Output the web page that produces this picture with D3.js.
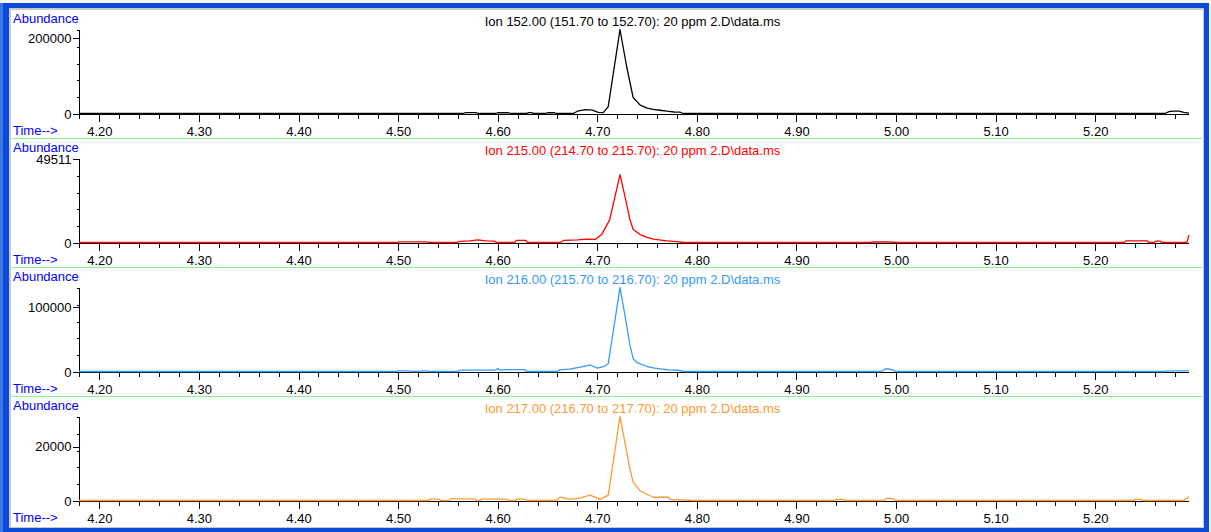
<!DOCTYPE html>
<html>
<head>
<meta charset="utf-8">
<script src="https://cdn.jsdelivr.net/npm/d3@7"></script>
<style>
  html, body { margin: 0; padding: 0; background: #f4f5f7; }
  svg { display: block; }
  text { font-family: "Liberation Sans", Arial, sans-serif; font-size: 13px; }
</style>
</head>
<body>
<svg id="chart" width="1211" height="532"></svg>
<script>
// ---------------- DATA ----------------
const titles = [
  "Ion 152.00 (151.70 to 152.70): 20 ppm 2.D\\data.ms",
  "Ion 215.00 (214.70 to 215.70): 20 ppm 2.D\\data.ms",
  "Ion 216.00 (215.70 to 216.70): 20 ppm 2.D\\data.ms",
  "Ion 217.00 (216.70 to 217.70): 20 ppm 2.D\\data.ms"
];
const timeDomain = [4.1796, 5.2941];
const xTickValues = [4.20, 4.30, 4.40, 4.50, 4.60, 4.70, 4.80, 4.90, 5.00, 5.10, 5.20];
const xTickLabels = ["4.20", "4.30", "4.40", "4.50", "4.60", "4.70", "4.80", "4.90", "5.00", "5.10", "5.20"];
const yMax = [221000, 49511, 129000, 30900];
const yTickValues = [[0, 200000], [0, 49511], [0, 100000], [0, 20000]];
const yTickLabels = [["0", "200000"], ["0", "49511"], ["0", "100000"], ["0", "20000"]];

// [time (min), abundance]
const ion152 = [[4.1796,0],[4.565,0],[4.568,2500],[4.578,2500],[4.581,0],[4.598,0],[4.600,2000],[4.611,2000],[4.613,0],
  [4.629,0],[4.631,2500],[4.634,2500],[4.636,0],[4.648,0],[4.650,2000],[4.657,2000],[4.659,0],[4.676,0],[4.680,6000],
  [4.688,10000],[4.695,9000],[4.701,3000],[4.706,2500],[4.711,18000],[4.7228,221000],[4.7295,123000],[4.736,42000],
  [4.743,22000],[4.750,14000],[4.756,11000],[4.763,8500],[4.770,6000],[4.777,4000],[4.783,3500],[4.786,0],
  [5.270,0],[5.274,5000],[5.278,6500],[5.284,6000],[5.289,3000],[5.2941,1000]];
const ion215 = [[4.1796,0],[4.499,0],[4.501,400],[4.529,400],[4.531,0],[4.559,0],[4.562,700],[4.572,900],[4.580,1500],
  [4.588,900],[4.597,800],[4.599,0],[4.617,0],[4.619,1300],[4.628,1300],[4.630,0],[4.663,0],[4.666,1200],[4.680,1500],
  [4.690,2000],[4.698,1800],[4.7045,4800],[4.7125,13500],[4.7228,40000],[4.7278,27000],[4.7328,13500],[4.736,7700],
  [4.743,4700],[4.750,3000],[4.756,2000],[4.770,1000],[4.783,400],[4.786,0],[4.974,0],[4.976,300],[4.994,300],
  [4.996,0],[5.229,0],[5.231,1000],[5.252,1000],[5.254,0],[5.259,0],[5.261,800],[5.265,800],[5.267,0],[5.292,0],
  [5.2941,4500]];
const ion216 = [[4.1796,0],[4.498,0],[4.500,1000],[4.511,1000],[4.513,0],[4.523,0],[4.525,1000],[4.529,1000],[4.531,0],
  [4.560,0],[4.562,2000],[4.597,2000],[4.600,4500],[4.603,2000],[4.609,3000],[4.627,3000],[4.629,0],[4.660,0],
  [4.662,2500],[4.672,3500],[4.683,6600],[4.693,10000],[4.700,5100],[4.707,8000],[4.711,12000],[4.7228,129000],
  [4.7278,86000],[4.7328,40000],[4.7361,19500],[4.7396,14000],[4.746,10000],[4.7496,8000],[4.7563,5500],[4.763,4100],
  [4.772,2500],[4.783,1500],[4.787,0],[4.985,0],[4.990,4500],[4.996,3000],[5.000,0],[5.270,0],[5.272,1000],[5.2941,1000]];
const ion217 = [[4.1796,0],[4.530,0],[4.532,500],[4.541,500],[4.543,0],[4.551,0],[4.553,600],[4.577,600],[4.579,0],
  [4.582,0],[4.584,500],[4.609,500],[4.611,0],[4.617,0],[4.619,500],[4.627,500],[4.629,0],[4.659,0],[4.6626,1200],
  [4.6727,400],[4.683,1000],[4.6927,2000],[4.7028,400],[4.711,2000],[4.7228,30900],[4.7278,21200],[4.7328,11500],
  [4.7361,6700],[4.7429,3600],[4.7562,1200],[4.7713,1200],[4.773,400],[4.796,0],[4.938,0],[4.940,400],[4.948,400],
  [4.950,0],[4.988,0],[4.991,900],[4.997,600],[5.000,0],[5.238,0],[5.240,400],[5.246,400],[5.248,0],[5.289,0],
  [5.2941,1400]];
const seriesData = [ion152, ion215, ion216, ion217];
const seriesColors = ["#000000", "#ff0000", "#3399ff", "#ff9933"];

// ---------------- LAYOUT ----------------
const svg = d3.select("#chart");
const W = 1211, H = 532;
const axisLeftX = 79, axisRightX = 1189;
const firstBaseline = 114, panelStep = 129, plotH = 84;
const labelBlue = "#0000ff";

// window frame
svg.append("rect").attr("x", 0).attr("y", 0).attr("width", W).attr("height", H).attr("fill", "#f4f5f7");
svg.append("rect").attr("x", 0).attr("y", 3).attr("width", 1209).attr("height", 529).attr("fill", "#0b4bd6");
svg.append("rect").attr("x", 0).attr("y", 3).attr("width", 3).attr("height", 529).attr("fill", "#3a78e8");
svg.append("rect").attr("x", 9).attr("y", 8).attr("width", 1195).attr("height", 520).attr("fill", "#c8c8c8");
svg.append("rect").attr("x", 11).attr("y", 10).attr("width", 1192).attr("height", 517).attr("fill", "#ffffff");

const x = d3.scaleLinear().domain(timeDomain).range([axisLeftX, axisRightX]);

seriesData.forEach((data, i) => {
  const y0 = firstBaseline + i * panelStep;
  const y = d3.scaleLinear().domain([0, yMax[i]]).range([y0, y0 - plotH]);
  const g = svg.append("g");

  // separator line under each panel except last
  if (i < seriesData.length - 1) {
    g.append("line").attr("x1", 12).attr("x2", 1202)
      .attr("y1", y0 + 24.5).attr("y2", y0 + 24.5)
      .attr("stroke", "#88f088").attr("stroke-width", 1);
  }

  // labels
  g.append("text").attr("x", 13).attr("y", y0 - 91).attr("fill", labelBlue).text("Abundance");
  g.append("text").attr("x", 13).attr("y", y0 + 21).attr("fill", labelBlue).text("Time-->");
  g.append("text").attr("x", 632.5).attr("y", y0 - 88).attr("text-anchor", "middle")
    .attr("fill", seriesColors[i]).text(titles[i]);

  // x axis: minor then major
  const minorX = d3.range(4.18, 5.2941, 0.02).filter(v => v >= timeDomain[0]);
  const gxMinor = g.append("g").attr("transform", `translate(0,${y0 + 0.5})`)
    .call(d3.axisBottom(x).tickValues(minorX).tickSize(4).tickFormat(""));
  gxMinor.select(".domain").remove();
  const gxMajor = g.append("g").attr("transform", `translate(0,${y0 + 0.5})`)
    .call(d3.axisBottom(x).tickValues(xTickValues).tickSize(7)
      .tickFormat((d, k) => xTickLabels[k]));
  gxMajor.select(".domain").remove();
  gxMajor.selectAll("text").attr("y", 21).attr("dy", null)
    .attr("fill", "#000").style("font-size", "13px").style("font-family", '"Liberation Sans", Arial, sans-serif');
  g.selectAll(".tick line").attr("stroke", "#000").attr("shape-rendering", "crispEdges");

  // y axis: minor ticks at fifths, major ticks with labels
  const minorY = [1, 2, 3, 4, 5].map(k => yMax[i] * k / 5);
  const gyMinor = g.append("g").attr("transform", `translate(${axisLeftX + 0.5},0)`)
    .call(d3.axisLeft(y).tickValues(minorY).tickSize(3).tickFormat(""));
  gyMinor.select(".domain").remove();
  const gyMajor = g.append("g").attr("transform", `translate(${axisLeftX + 0.5},0)`)
    .call(d3.axisLeft(y).tickValues(yTickValues[i]).tickSize(7).tickPadding(1)
      .tickFormat((d, k) => yTickLabels[i][k]));
  gyMajor.select(".domain").remove();
  gyMajor.selectAll("text").attr("fill", "#000").style("font-size", "13px")
    .style("font-family", '"Liberation Sans", Arial, sans-serif');
  g.selectAll(".tick line").attr("stroke", "#000").attr("shape-rendering", "crispEdges");

  // axis lines
  g.append("line").attr("x1", axisLeftX).attr("x2", axisRightX)
    .attr("y1", y0 + 0.5).attr("y2", y0 + 0.5).attr("stroke", "#000").attr("shape-rendering", "crispEdges");
  g.append("line").attr("x1", axisLeftX + 0.5).attr("x2", axisLeftX + 0.5)
    .attr("y1", y0 - plotH).attr("y2", y0 + 0.5).attr("stroke", "#000").attr("shape-rendering", "crispEdges");

  // trace
  const line = d3.line().x(d => x(d[0])).y(d => y(d[1]) - 0.5);
  g.append("path").datum(data).attr("d", line).attr("fill", "none")
    .attr("stroke", seriesColors[i]).attr("stroke-width", 1.3).attr("stroke-linejoin", "round");
});
</script>
</body>
</html>
